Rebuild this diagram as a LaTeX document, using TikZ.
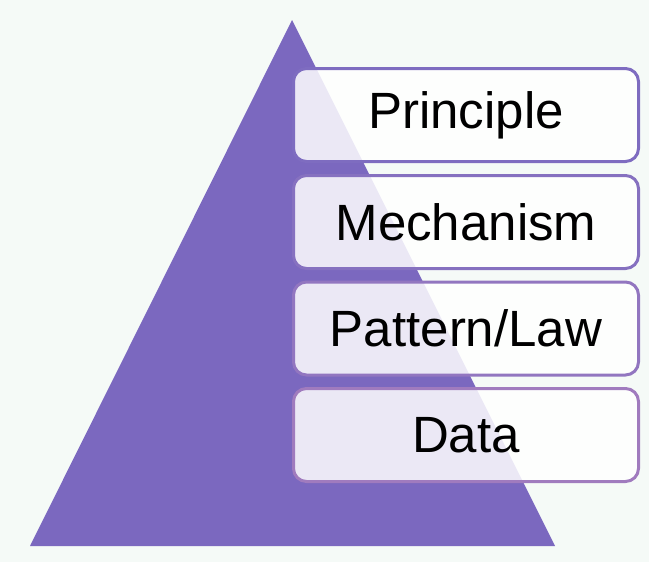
\documentclass[tikz,border=0pt]{standalone}
\usepackage{fontspec}
\setmainfont{Liberation Sans}
\definecolor{bgc}{HTML}{F5FAF7}
\definecolor{tri}{HTML}{7B68BF}
\definecolor{bA}{HTML}{7E6CC0}
\definecolor{bB}{HTML}{8671C0}
\definecolor{bC}{HTML}{9276C0}
\definecolor{bD}{HTML}{A07BBE}
\begin{document}
\begin{tikzpicture}[x=1pt,y=-1pt,
  level/.style={draw=#1, line width=3pt, fill=white, fill opacity=0.85, text opacity=1,
    rounded corners=13pt, minimum width=345pt, minimum height=93pt, inner sep=0pt,
    font=\fontsize{51}{60}\selectfont, text=black}]
\fill[bgc] (0,0) rectangle (649,562);
\useasboundingbox (0,0) rectangle (649,562);
\coordinate (apex) at (292,20);
\coordinate (bl) at (30,546);
\coordinate (br) at (555,546);
\fill[tri] (apex) -- (br) -- (bl) -- cycle;
\node[level=bA] (principle) at (466,115) {Principle};
\node[level=bB] (mechanism) at (466,222) {Mechanism};
\node[level=bC] (pattern) at (466,328.5) {Pattern/Law};
\node[level=bD] (data) at (466,435) {Data};
\end{tikzpicture}
\end{document}
